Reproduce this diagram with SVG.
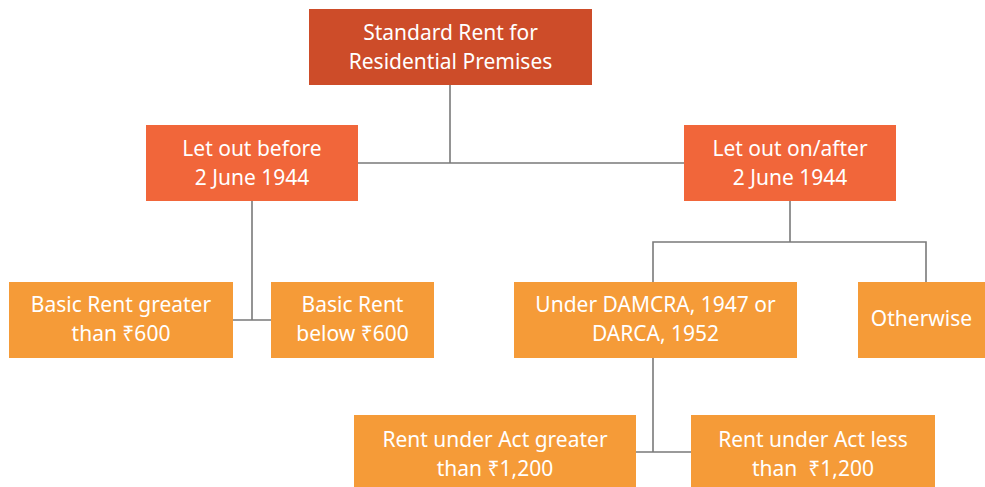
<svg xmlns="http://www.w3.org/2000/svg" width="985" height="487" viewBox="0 0 985 487">
<style>
.t{font-family:"Noto Sans","Open Sans","DejaVu Sans",sans-serif;font-size:21px;fill:#fff;text-anchor:middle}
.c{stroke:#7a7a7a;stroke-width:1.6;fill:none}
.l0{fill:#CD4C29}.l1{fill:#F1663A}.l2{fill:#F59B38}
</style>
<rect width="985" height="487" fill="#fff"/>
<g id="connectors">
<path class="c" d="M450 85V163M358 163H684"/>
<path class="c" d="M252 201V320M233 320H271"/>
<path class="c" d="M790 201V242M653 282V242H926V282"/>
<path class="c" d="M653 358V452M636 452H691"/>
</g>
<g id="n0"><rect class="l0" x="309" y="9" width="283" height="76"/>
<text class="t" x="450.5" y="40">Standard Rent for</text><text class="t" x="450.5" y="69">Residential Premises</text></g>
<g id="n1"><rect class="l1" x="146" y="125" width="212" height="76"/>
<text class="t" x="252" y="156">Let out before</text><text class="t" x="252" y="185">2 June 1944</text></g>
<g id="n2"><rect class="l1" x="684" y="125" width="212" height="76"/>
<text class="t" x="790" y="156">Let out on/after</text><text class="t" x="790" y="185">2 June 1944</text></g>
<g id="n3"><rect class="l2" x="9" y="282" width="224" height="76"/>
<text class="t" x="121" y="312">Basic Rent greater</text><text class="t" x="121" y="341">than ₹600</text></g>
<g id="n4"><rect class="l2" x="271" y="282" width="163" height="76"/>
<text class="t" x="352.5" y="312">Basic Rent</text><text class="t" x="352.5" y="341">below ₹600</text></g>
<g id="n5"><rect class="l2" x="514" y="282" width="283" height="76"/>
<text class="t" x="655.5" y="312">Under DAMCRA, 1947 or</text><text class="t" x="655.5" y="341">DARCA, 1952</text></g>
<g id="n6"><rect class="l2" x="858" y="282" width="127" height="76"/>
<text class="t" x="921.5" y="326">Otherwise</text></g>
<g id="n7"><rect class="l2" x="354" y="415" width="282" height="72"/>
<text class="t" x="495" y="447">Rent under Act greater</text><text class="t" x="495" y="476">than ₹1,200</text></g>
<g id="n8"><rect class="l2" x="691" y="415" width="244" height="72"/>
<text class="t" x="813" y="447">Rent under Act less</text><text class="t" x="813" y="476" xml:space="preserve">than  ₹1,200</text></g>
</svg>
